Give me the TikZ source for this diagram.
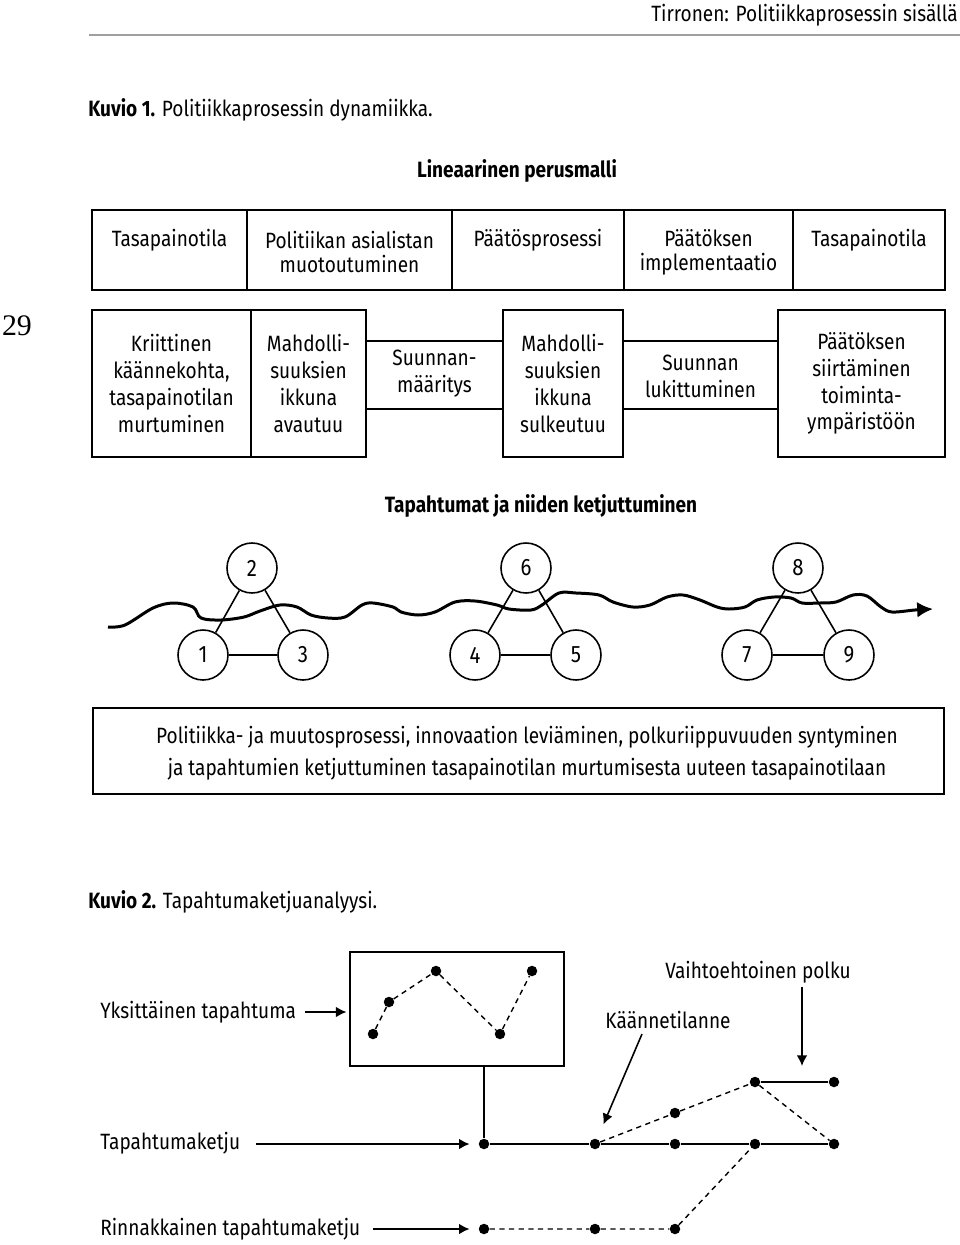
\documentclass[tikz,border=0pt]{standalone}
\usepackage{fontspec}
\setmainfont{Fira Sans}[FakeStretch=0.86]
\newfontfamily\pagenofont{Liberation Serif}
\usetikzlibrary{arrows.meta,positioning}

\begin{document}
\begin{tikzpicture}[x=0.02cm, y=-0.02cm,
    cell/.style={draw, line width=1pt, inner sep=0pt, outer sep=0pt},
    lbl/.style={align=center, inner sep=0pt, font=\fontsize{12.6}{15.3}\selectfont},
    toplbl/.style={lbl, font=\fontsize{12.6}{13.8}\selectfont},
    ev/.style={circle, draw, fill=white, line width=0.9pt, minimum size=1cm, inner sep=0pt, font=\fontsize{13.5}{14}\selectfont},
    dot/.style={circle, fill=black, minimum size=0.21cm, inner sep=0pt},
    pathdash/.style={line width=0.8pt, dash pattern=on 3pt off 2.5pt},
    arr/.style={line width=0.9pt, -{Latex[length=6pt,width=6pt]}}]
    \useasboundingbox (0,0) rectangle (960,1245);

    % Running head
    \node[lbl, anchor=east] (runhead) at (958,15) {Tirronen: Politiikkaprosessin sisällä};
    \draw[gray!75, line width=1.1pt] (89,35) -- (960,35);
    \node[font=\pagenofont\fontsize{17}{17}\selectfont, inner sep=0pt] (pageno) at (17,326) {29};

    % Kuvio 1
    \node[lbl, anchor=west] (fig1) at (88,110) {\textbf{Kuvio 1.} Politiikkaprosessin dynamiikka.};
    \node[lbl] (linhead) at (517,171) {\textbf{Lineaarinen perusmalli}};

    % Linear model, top row
    \node[cell, minimum width=3.1cm, minimum height=1.6cm] (t1) at (169.5,250) {};
    \node[cell, minimum width=4.1cm, minimum height=1.6cm] (t2) at (349.5,250) {};
    \node[cell, minimum width=3.44cm, minimum height=1.6cm] (t3) at (538,250) {};
    \node[cell, minimum width=3.38cm, minimum height=1.6cm] (t4) at (708.5,250) {};
    \node[cell, minimum width=3.04cm, minimum height=1.6cm] (t5) at (869,250) {};
    \node[toplbl] (t1txt) at (169.5,240) {Tasapainotila};
    \node[toplbl] (t2txt) at (349.5,252) {Politiikan asialistan\\muotoutuminen};
    \node[toplbl] (t3txt) at (538,240) {Päätösprosessi};
    \node[toplbl] (t4txt) at (708.5,252) {Päätöksen\\implementaatio};
    \node[toplbl] (t5txt) at (869,240) {Tasapainotila};

    % Linear model, second row
    \node[cell, minimum width=3.18cm, minimum height=2.94cm] (r1) at (171.5,383.5) {};
    \node[cell, minimum width=2.3cm, minimum height=2.94cm] (r2) at (308.5,383.5) {};
    \node[cell, minimum width=2.4cm, minimum height=2.94cm] (r4) at (563,383.5) {};
    \node[cell, minimum width=3.34cm, minimum height=2.94cm] (r6) at (861.5,383.5) {};
    \node[inner sep=0pt, minimum width=2.74cm, minimum height=1.36cm] (r3) at (434.5,375) {};
    \node[inner sep=0pt, minimum width=3.1cm, minimum height=1.36cm] (r5) at (700.5,375) {};
    \draw[line width=1pt] (r2.east |- r3.north) -- (r4.west |- r3.north);
    \draw[line width=1pt] (r2.east |- r3.south) -- (r4.west |- r3.south);
    \draw[line width=1pt] (r4.east |- r5.north) -- (r6.west |- r5.north);
    \draw[line width=1pt] (r4.east |- r5.south) -- (r6.west |- r5.south);
    \node[lbl] (r1txt) at (171.5,383.5) {Kriittinen\\käännekohta,\\tasapainotilan\\murtuminen};
    \node[lbl] (r2txt) at (308.5,383.5) {Mahdolli-\\suuksien\\ikkuna\\avautuu};
    \node[lbl] (r3txt) at (434.5,374) {Suunnan-\\määritys};
    \node[lbl] (r4txt) at (563,383.5) {Mahdolli-\\suuksien\\ikkuna\\sulkeutuu};
    \node[lbl] (r5txt) at (700.5,376) {Suunnan\\lukittuminen};
    \node[lbl] (r6txt) at (861.5,383.5) {Päätöksen\\siirtäminen\\toiminta-\\ympäristöön};

    % Event chain
    \node[lbl] (evhead) at (541,506) {\textbf{Tapahtumat ja niiden ketjuttuminen}};
    \draw[line width=1.7pt, -{Latex[length=9pt,width=9pt]}] plot[smooth, tension=0.55] coordinates {
        (108,627) (125,625) (153,608) (173,603) (193,607) (201,618) (221,620)
        (244,617) (260,611) (280,605) (297,607) (311,615) (328,618) (345,617)
        (362,605) (373,603) (393,607) (401,612) (418,615) (435,612) (455,602)
        (475,601) (497,605) (509,609) (531,610) (542,605) (559,593) (576,593)
        (599,595) (613,602) (633,607) (650,605) (667,597) (683,595) (700,600)
        (717,607) (729,609) (745,607) (757,600) (774,597) (791,598) (802,603)
        (819,603) (836,602) (853,595) (867,596) (881,607) (892,612) (915,610)
        (933,609)};
    \node[ev] (c1) at (203,655) {1};
    \node[ev] (c2) at (252,568) {2};
    \node[ev] (c3) at (303,655) {3};
    \node[ev] (c4) at (475,655) {4};
    \node[ev] (c6) at (526,568) {6};
    \node[ev] (c5) at (576,655) {5};
    \node[ev] (c7) at (747,655) {7};
    \node[ev] (c8) at (798,568) {8};
    \node[ev] (c9) at (849,655) {9};
    \foreach \a/\b/\c in {c1/c2/c3, c4/c6/c5, c7/c8/c9} {
        \draw[line width=0.9pt] (\a) -- (\b) -- (\c) -- (\a);
    }

    % Summary box
    \node[cell, minimum width=17.02cm, minimum height=1.72cm] (sumbox) at (518.5,751) {};
    \node[lbl, font=\fontsize{12.6}{18}\selectfont] (sumtxt) at (527,753)
        {Politiikka- ja muutosprosessi, innovaation leviäminen, polkuriippuvuuden syntyminen\\
         ja tapahtumien ketjuttuminen tasapainotilan murtumisesta uuteen tasapainotilaan};

    % Kuvio 2
    \node[lbl, anchor=west] (fig2) at (88,902) {\textbf{Kuvio 2.} Tapahtumaketjuanalyysi.};

    % Single event box
    \node[cell, minimum width=4.28cm, minimum height=2.28cm] (yk) at (457,1009) {};
    \node[dot] (e1) at (373,1034) {};
    \node[dot] (e2) at (389,1002) {};
    \node[dot] (e3) at (436,971) {};
    \node[dot] (e4) at (500,1034) {};
    \node[dot] (e5) at (532,971) {};
    \draw[pathdash] (e1) -- (e2) -- (e3) -- (e4) -- (e5);

    % Chains
    \node[dot] (k1) at (484,1144) {};
    \node[dot] (k2) at (595,1144) {};
    \node[dot] (k3) at (675,1144) {};
    \node[dot] (k4) at (755,1144) {};
    \node[dot] (k5) at (834,1144) {};
    \node[dot] (u1) at (675,1113) {};
    \node[dot] (u2) at (755,1082) {};
    \node[dot] (u3) at (834,1082) {};
    \node[dot] (p1) at (484,1229) {};
    \node[dot] (p2) at (595,1229) {};
    \node[dot] (p3) at (675,1229) {};
    \draw[line width=1pt] (yk.south -| k1) -- (k1);
    \draw[line width=1pt] (k1) -- (k2) -- (k3) -- (k4) -- (k5);
    \draw[line width=1pt] (u2) -- (u3);
    \draw[pathdash] (k2) -- (u1) -- (u2) -- (k5);
    \draw[pathdash] (p1) -- (p2) -- (p3) -- (k4);

    % Labels and arrows
    \node[lbl, anchor=west] (ystxt) at (100,1012) {Yksittäinen tapahtuma};
    \node[lbl, anchor=west] (tktxt) at (100,1143) {Tapahtumaketju};
    \node[lbl, anchor=west] (rktxt) at (100,1229) {Rinnakkainen tapahtumaketju};
    \node[lbl] (kttxt) at (668,1020) {Käännetilanne};
    \node[lbl] (vptxt) at (758,972) {Vaihtoehtoinen polku};
    \coordinate (ktfoot) at (642,1034);
    \coordinate (vpfoot) at (802,987);
    \coordinate (vptip) at (802,1066);
    \draw[arr, shorten <=5pt, shorten >=2pt] (ystxt.east) -- (ystxt.east -| yk.west);
    \draw[arr, shorten <=9pt, shorten >=5pt] (tktxt.east |- k1) -- (k1);
    \draw[arr, shorten <=7pt, shorten >=5pt] (rktxt.east |- p1) -- (p1);
    \draw[arr, shorten >=9pt] (ktfoot) -- (k2);
    \draw[arr] (vpfoot) -- (vptip);
\end{tikzpicture}
\end{document}
